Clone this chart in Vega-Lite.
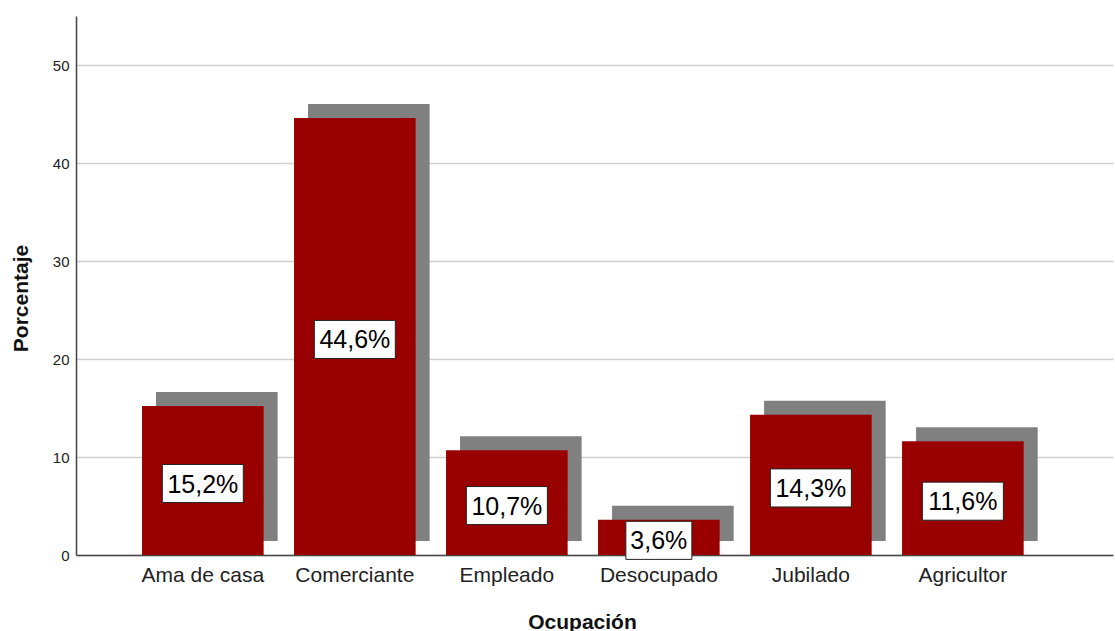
{
  "$schema": "https://vega.github.io/schema/vega-lite/v6.json",
  "width": 1037,
  "height": 539,
  "autosize": {"type": "none"},
  "padding": {"left": 76, "top": 16, "right": 2, "bottom": 76},
  "background": "white",
  "config": {
    "view": {"stroke": null},
    "font": "Liberation Sans"
  },
  "data": {
    "values": [
      {"ocupacion": "Ama de casa", "pct": 15.2, "label": "15,2%"},
      {"ocupacion": "Comerciante", "pct": 44.6, "label": "44,6%"},
      {"ocupacion": "Empleado", "pct": 10.7, "label": "10,7%"},
      {"ocupacion": "Desocupado", "pct": 3.6, "label": "3,6%"},
      {"ocupacion": "Jubilado", "pct": 14.3, "label": "14,3%"},
      {"ocupacion": "Agricultor", "pct": 11.6, "label": "11,6%"}
    ]
  },
  "encoding": {
    "x": {
      "field": "ocupacion",
      "type": "nominal",
      "sort": null,
      "scale": {"paddingInner": 0.2, "paddingOuter": 0.511, "align": 0.425},
      "axis": {
        "title": "Ocupación",
        "labelAngle": 0,
        "ticks": false,
        "labelFont": "Liberation Sans",
        "labelFontSize": 21,
        "labelColor": "#222222",
        "labelPadding": 9,
        "domainColor": "#444444",
        "domainWidth": 1.5,
        "titleFont": "Liberation Sans",
        "titleFontSize": 21,
        "titleFontWeight": "bold",
        "titleColor": "#111111",
        "titleX": 506,
        "titleY": 73,
        "titleBaseline": "alphabetic",
        "titleAnchor": "middle"
      }
    }
  },
  "layer": [
    {
      "mark": {"type": "bar", "color": "#808080", "xOffset": 14, "yOffset": -14, "y2Offset": -14},
      "encoding": {
        "y": {
          "field": "pct",
          "type": "quantitative",
          "scale": {"domain": [0, 55], "nice": false},
          "axis": {
            "title": "Porcentaje",
            "values": [0, 10, 20, 30, 40, 50],
            "grid": true,
            "gridColor": "#d0d0d0",
            "gridWidth": 1.5,
            "ticks": false,
            "labelFont": "Liberation Sans",
            "labelFontSize": 15,
            "labelColor": "#222222",
            "labelPadding": 7,
            "domainColor": "#444444",
            "domainWidth": 1.5,
            "titleFont": "Liberation Sans",
            "titleFontSize": 21,
            "titleFontWeight": "bold",
            "titleColor": "#111111",
            "titleX": -49,
            "titleY": 282,
            "titleBaseline": "alphabetic",
            "titleAngle": -90,
            "titleAnchor": "middle"
          }
        }
      }
    },
    {
      "mark": {"type": "bar", "color": "#990000"},
      "encoding": {
        "y": {
          "field": "pct",
          "type": "quantitative",
          "scale": {"domain": [0, 55], "nice": false},
          "axis": null
        }
      }
    },
    {
      "mark": {"type": "point", "filled": true, "fill": "white", "stroke": "#222222", "strokeWidth": 1, "opacity": 1, "size": 6561, "yOffset": 3},
      "encoding": {
        "y": {
          "field": "pct",
          "type": "quantitative",
          "scale": {"domain": [0, 110], "nice": false},
          "axis": null
        },
        "shape": {
          "condition": {"test": "datum.pct < 10", "value": "M-0.815,-0.47H0.815V0.47H-0.815Z"},
          "value": "M-1,-0.47H1V0.47H-1Z"
        }
      }
    },
    {
      "mark": {"type": "text", "font": "Liberation Sans", "fontSize": 25, "color": "#000000", "baseline": "middle", "align": "center", "yOffset": 4},
      "encoding": {
        "y": {
          "field": "pct",
          "type": "quantitative",
          "scale": {"domain": [0, 110], "nice": false},
          "axis": null
        },
        "text": {"field": "label"}
      }
    }
  ],
  "resolve": {"scale": {"y": "independent"}}
}
